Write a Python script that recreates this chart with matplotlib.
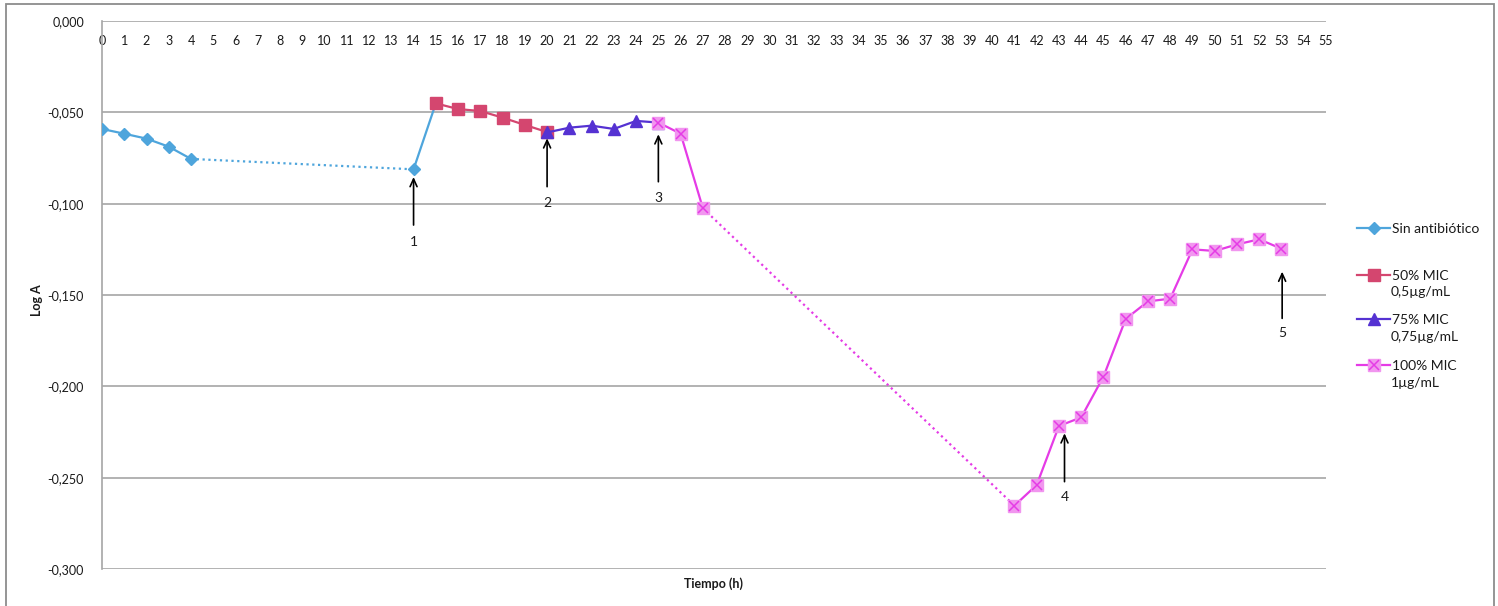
import matplotlib
matplotlib.use("Agg")
import matplotlib.pyplot as plt
import numpy as np
from matplotlib.lines import Line2D
from matplotlib.patches import Rectangle

# ---------------- data ----------------
hours_sin = [0, 1, 2, 3, 4, 14, 15]
logA_sin = [-0.0591, -0.0617, -0.0644, -0.0688, -0.0755, -0.0812, -0.0451]

hours_50 = [15, 16, 17, 18, 19, 20]
logA_50 = [-0.0451, -0.0482, -0.0493, -0.0529, -0.0569, -0.0608]

hours_75 = [20, 21, 22, 23, 24, 25]
logA_75 = [-0.0610, -0.0584, -0.0573, -0.0591, -0.0547, -0.0556]

hours_100 = [25, 26, 27, 41, 42, 43, 44, 45, 46, 47, 48, 49, 50, 51, 52, 53]
logA_100 = [-0.0556, -0.0617, -0.1025, -0.2653, -0.2540, -0.2217, -0.2170,
            -0.1947, -0.1631, -0.1535, -0.1520, -0.1250, -0.1259, -0.1223,
            -0.1195, -0.1247]

series_line1 = ["Sin antibiótico", "50% MIC", "75% MIC", "100% MIC"]
series_line2 = ["", "0,5µg/mL", "0,75µg/mL", "1µg/mL"]

x_ticks = list(range(0, 56))
y_ticks = [0.0, -0.05, -0.10, -0.15, -0.20, -0.25, -0.30]

# arrow annotations: label, x, tip y, tail y, text y
arrow_labels = ["1", "2", "3", "4", "5"]
arrow_x = [14.0, 20.0, 25.0, 43.25, 53.03]
arrow_tip = [-0.0854, -0.0642, -0.0620, -0.2257, -0.1372]
arrow_tail = [-0.1117, -0.0907, -0.0880, -0.2522, -0.1628]
arrow_text = [-0.1210, -0.0996, -0.0969, -0.2604, -0.1710]

# ---------------- style ----------------
plt.rcParams['font.family'] = ['Lato', 'DejaVu Sans']
C_BLUE = '#4EA5DC'
C_RED = '#D4466F'
C_PURPLE = '#5532D2'
C_PINK = '#E53BE6'
C_PINK_FILL = '#F196EF'
GRID = '#A6A6A6'
TXT = '#1a1a1a'
LW = 1.6
DOT = (0, (1, 1.6))

fig = plt.figure(figsize=(14.98, 6.06), dpi=100)
ax = fig.add_axes([102 / 1498, 1 - 569 / 606, 1224 / 1498, 548 / 606])


def draw_series(hours, vals, color, z):
    h = np.array(hours, dtype=float)
    v = np.array(vals, dtype=float)
    start = 0
    for i in range(1, len(h)):
        if h[i] - h[i - 1] > 1:
            ax.plot(h[start:i], v[start:i], color=color, lw=LW, zorder=z,
                    solid_capstyle='round')
            ax.plot(h[i - 1:i + 1], v[i - 1:i + 1], color=color, lw=LW,
                    linestyle=DOT, zorder=z)
            start = i
    ax.plot(h[start:], v[start:], color=color, lw=LW, zorder=z,
            solid_capstyle='round')


draw_series(hours_sin, logA_sin, C_BLUE, 3)
ax.plot(hours_sin, logA_sin, linestyle='none', marker='D', ms=6.2,
        color=C_BLUE, mec=C_BLUE, zorder=3.5)

draw_series(hours_50, logA_50, C_RED, 4)
ax.plot(hours_50, logA_50, linestyle='none', marker='s', ms=8,
        color=C_RED, mec=C_RED, zorder=4.5)

draw_series(hours_75, logA_75, C_PURPLE, 5)
ax.plot(hours_75, logA_75, linestyle='none', marker='^', ms=8,
        color=C_PURPLE, mec=C_PURPLE, zorder=5.5)

draw_series(hours_100, logA_100, C_PINK, 6)
ax.plot(hours_100, logA_100, linestyle='none', marker='s', ms=8.5,
        mfc=C_PINK_FILL, mec=C_PINK_FILL, zorder=6.5)
ax.plot(hours_100, logA_100, linestyle='none', marker='x', ms=7.5,
        mew=1.1, color=C_PINK, zorder=6.6)

# axes
ax.set_xlim(0, 55)
ax.set_ylim(-0.30, 0.0)
ax.set_yticks(y_ticks)
ax.set_yticklabels([f"{t:.3f}".replace('.', ',') for t in y_ticks])
ax.set_xticks(x_ticks)
ax.set_xticklabels([str(t) for t in x_ticks])
ax.xaxis.tick_top()
ax.tick_params(axis='x', length=0, pad=-19, labelsize=9, colors=TXT)
ax.tick_params(axis='y', length=0, pad=13, labelsize=9, colors=TXT)
ax.grid(axis='y', color=GRID, lw=1.2)
ax.set_axisbelow(True)
for s in ['right', 'bottom', 'top']:
    ax.spines[s].set_visible(False)
ax.spines['left'].set_color(GRID)
ax.spines['left'].set_linewidth(1.2)

ax.set_xlabel("Tiempo (h)", fontsize=9, fontweight='bold', color=TXT)
ax.xaxis.set_label_position('bottom')
ax.xaxis.set_label_coords(0.5, -0.015)
ax.set_ylabel("Log A", fontsize=9, fontweight='bold', color=TXT)
ax.yaxis.set_label_coords(-0.048, 0.49)

# arrows
for lab, x, tip, tail, ty in zip(arrow_labels, arrow_x, arrow_tip, arrow_tail, arrow_text):
    ax.annotate('', xy=(x, tip), xytext=(x, tail),
                arrowprops=dict(arrowstyle='->,head_length=0.55,head_width=0.25',
                                color='black', lw=1.2, shrinkA=0, shrinkB=0),
                zorder=8)
    ax.text(x, ty, lab, ha='center', va='center', fontsize=10, color=TXT)

# legend (Excel style: handle beside first line, second line below)
handles = [
    Line2D([], [], color=C_BLUE, lw=LW, marker='D', ms=6),
    Line2D([], [], color=C_RED, lw=LW, marker='s', ms=9),
    Line2D([], [], color=C_PURPLE, lw=LW, marker='^', ms=9),
    (Line2D([], [], color=C_PINK, lw=LW, marker='s', ms=9,
            mfc=C_PINK_FILL, mec=C_PINK_FILL),
     Line2D([], [], color=C_PINK, lw=0, marker='x', ms=7.5, mew=1.1)),
]
leg_y1 = [229, 276, 320, 366]
leg_y2 = [None, 292, 337, 383]
for hnd, l1, l2, y1, y2 in zip(handles, series_line1, series_line2, leg_y1, leg_y2):
    leg = fig.legend([hnd], [l1], loc='center left',
                     bbox_to_anchor=(1357 / 1498, 1 - y1 / 606), frameon=False,
                     fontsize=10, handlelength=2.4, handletextpad=0.15,
                     borderpad=0, borderaxespad=0, labelcolor=TXT)
    if l2:
        fig.text(1391 / 1498, 1 - y2 / 606, l2, ha='left', va='center',
                 fontsize=10, color=TXT)

# outer chart border
fig.add_artist(Rectangle((6 / 1498, -0.05), 1488 / 1498, 1.05 - 4 / 606,
                         transform=fig.transFigure, fill=False,
                         edgecolor='#8C8C8C', lw=1.3))

fig.savefig("out.png", dpi=100)
